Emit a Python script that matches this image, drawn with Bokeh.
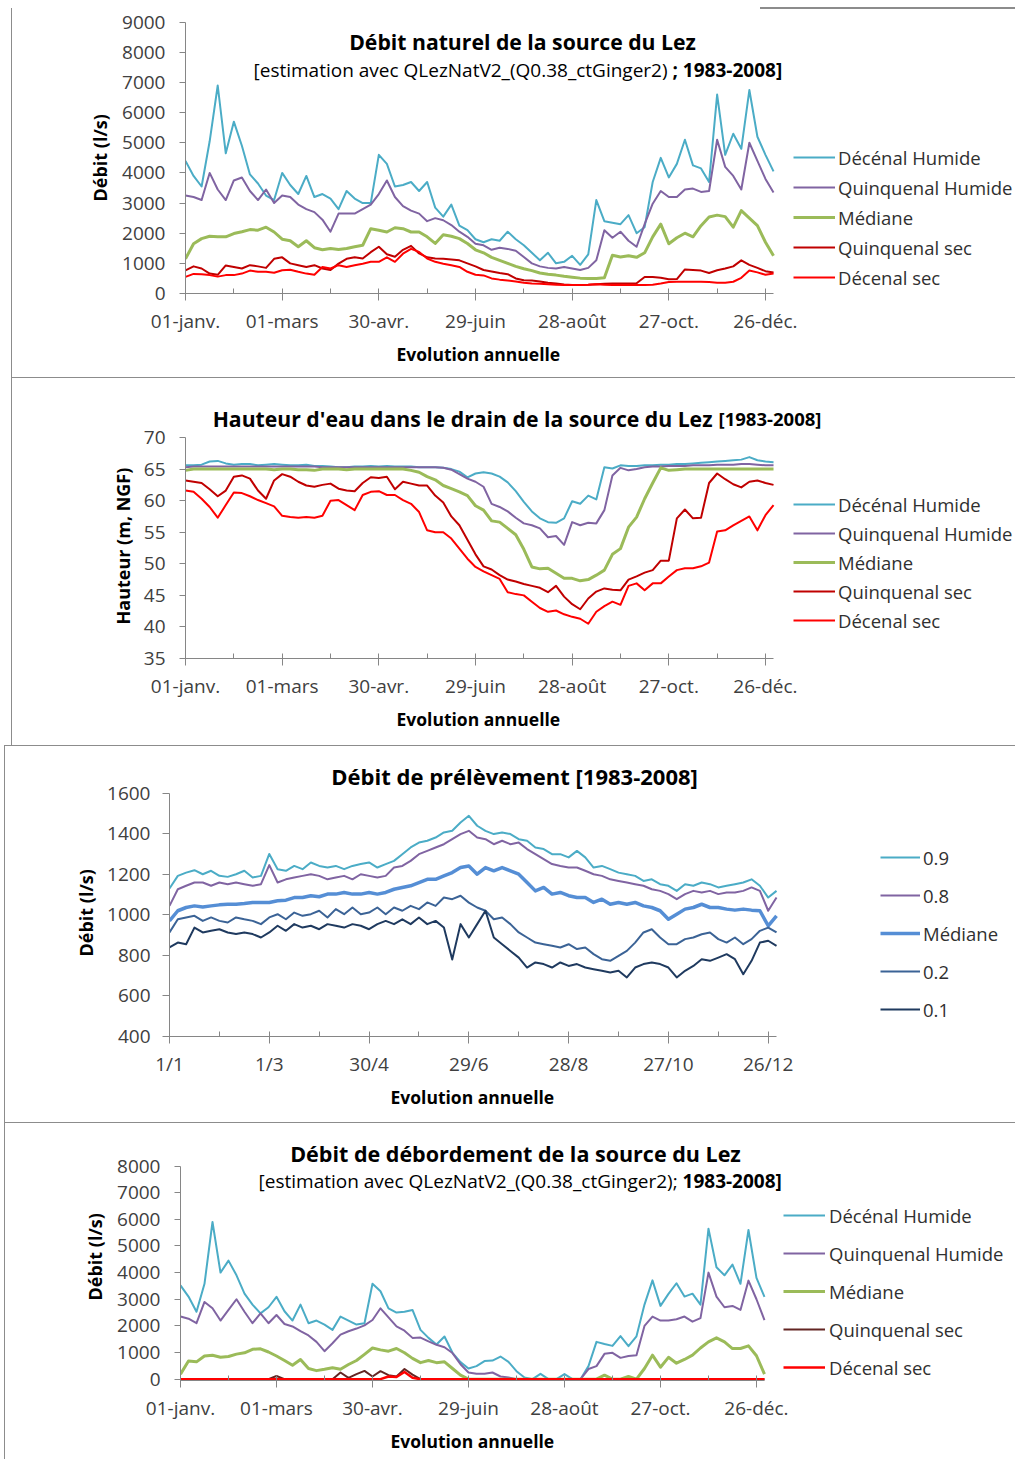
from bokeh.plotting import figure
from bokeh.models import Range1d, FixedTicker, Label, Legend, LegendItem, Title
from bokeh.layouts import column
from bokeh.embed import file_html
from bokeh.resources import INLINE

FONT = "Open Sans"

# ---------------- shared calendar ----------------
days = list(range(0, 366, 5))
tick_days = [0, 60, 120, 180, 240, 300, 360]
minor_days = [30, 90, 150, 210, 270, 330]
labels_fr = ["01-janv.", "01-mars", "30-avr.", "29-juin", "28-août", "27-oct.", "26-déc."]
labels_num = ["1/1", "1/3", "30/4", "29/6", "28/8", "27/10", "26/12"]
names_lez = ["Décénal Humide", "Quinquenal Humide", "Médiane", "Quinquenal sec", "Décenal sec"]
names_prel = ["0.9", "0.8", "Médiane", "0.2", "0.1"]

# ---------------- panel 1 : débit naturel (l/s) ----------------
q_nat_dh = [4400, 3900, 3550, 5050, 6900, 4650, 5700, 4900, 3950, 3650,
            3250, 3100, 4000, 3600, 3300, 3900, 3200, 3300, 3150, 2800,
            3400, 3150, 3000, 3000, 4600, 4300, 3550, 3600, 3700, 3400,
            3700, 2850, 2550, 2950, 2250, 2100, 1800, 1700, 1800, 1750,
            2050, 1800, 1600, 1350, 1100, 1350, 1000, 1050, 1250, 950,
            1300, 3100, 2400, 2350, 2300, 2600, 2000, 2200, 3700, 4500,
            3850, 4300, 5100, 4250, 4150, 3700, 6600, 4600, 5300, 4800,
            6750, 5200, 4600, 4050]
q_nat_qh = [3250, 3200, 3100, 4000, 3450, 3100, 3750, 3850, 3400, 3100,
            3450, 3000, 3250, 3200, 2950, 2800, 2700, 2450, 2050, 2650,
            2650, 2650, 2800, 2950, 3300, 3750, 3200, 2900, 2750, 2650,
            2400, 2500, 2430, 2270, 2050, 1880, 1650, 1600, 1450, 1520,
            1480, 1420, 1210, 1000, 900, 850, 830, 880, 830, 780,
            850, 1100, 2100, 1850, 2050, 1750, 1550, 2300, 2980, 3400,
            3200, 3200, 3450, 3480, 3370, 3400, 5100, 4200, 3900, 3450,
            5000, 4400, 3800, 3350]
q_nat_med = [1150, 1650, 1820, 1900, 1880, 1880, 1990, 2050, 2120, 2100,
             2200, 2040, 1800, 1750, 1550, 1750, 1520, 1450, 1490, 1460,
             1490, 1550, 1600, 2150, 2100, 2040, 2180, 2150, 2040, 2040,
             1880, 1660, 1950, 1900, 1820, 1660, 1450, 1350, 1200, 1100,
             1000, 900, 820, 760, 680, 640, 610, 570, 540, 510,
             500, 500, 520, 1270, 1210, 1250, 1200, 1350, 1880, 2300,
             1650, 1850, 2000, 1880, 2250, 2540, 2600, 2550, 2200, 2750,
             2500, 2250, 1700, 1250]
q_nat_qs = [770, 900, 830, 660, 620, 930, 880, 830, 940, 900,
            850, 1150, 1200, 1000, 940, 880, 940, 830, 780, 990,
            1150, 1200, 1160, 1370, 1550, 1300, 1220, 1450, 1580, 1330,
            1200, 1160, 1150, 1130, 1100, 1000, 900, 780, 730, 680,
            640, 500, 440, 430, 400, 360, 330, 300, 280, 280,
            290, 310, 320, 330, 330, 330, 340, 550, 550, 520,
            470, 480, 800, 780, 760, 680, 770, 830, 900, 1100,
            950, 850, 740, 700]
q_nat_ds = [550, 650, 640, 610, 560, 610, 610, 660, 760, 720,
            720, 690, 770, 790, 720, 660, 620, 880, 830, 940,
            880, 940, 990, 1050, 1050, 1200, 1050, 1320, 1480, 1380,
            1160, 1050, 990, 940, 880, 720, 620, 600, 500, 460,
            430, 400, 360, 330, 320, 310, 290, 280, 280, 280,
            290, 310, 290, 280, 280, 280, 280, 280, 290, 330,
            380, 390, 390, 390, 390, 380, 360, 360, 390, 520,
            760, 700, 620, 660]
y_ticks_nat = [0, 1000, 2000, 3000, 4000, 5000, 6000, 7000, 8000, 9000]

# ---------------- panel 2 : hauteur d'eau (m NGF) ----------------
h_dh = [65.6, 65.6, 65.7, 66.2, 66.3, 65.9, 65.7, 65.8, 65.8, 65.6,
        65.7, 65.8, 65.7, 65.6, 65.6, 65.7, 65.5, 65.5, 65.4, 65.3,
        65.3, 65.4, 65.4, 65.5, 65.4, 65.5, 65.4, 65.4, 65.4, 65.3,
        65.3, 65.3, 65.2, 65.0, 64.6, 63.7, 64.3, 64.5, 64.3, 63.8,
        62.9, 61.5, 59.8, 58.3, 57.2, 56.6, 56.5, 57.2, 59.9, 59.5,
        60.8, 60.2, 65.3, 65.1, 65.6, 65.5, 65.5, 65.6, 65.6, 65.7,
        65.7, 65.8, 65.8, 65.9, 66.0, 66.1, 66.2, 66.3, 66.4, 66.5,
        66.9, 66.4, 66.2, 66.1]
h_qh = [65.3, 65.4, 65.4, 65.4, 65.4, 65.4, 65.4, 65.4, 65.4, 65.4,
        65.4, 65.4, 65.4, 65.4, 65.4, 65.4, 65.4, 65.3, 65.3, 65.3,
        65.3, 65.3, 65.3, 65.3, 65.3, 65.3, 65.3, 65.3, 65.3, 65.3,
        65.3, 65.3, 65.2, 64.9, 64.2, 63.5, 63.0, 62.2, 59.5, 59.0,
        58.3, 57.3, 56.4, 56.1, 55.6, 54.2, 54.4, 53.0, 56.6, 56.1,
        56.5, 56.4, 58.5, 64.0, 65.2, 64.8, 65.0, 65.3, 65.4, 65.4,
        65.5, 65.5, 65.5, 65.6, 65.6, 65.6, 65.7, 65.7, 65.7, 65.8,
        65.8, 65.7, 65.6, 65.6]
h_med = [64.8, 65.0, 65.0, 65.0, 65.0, 65.0, 65.0, 65.0, 65.0, 65.0,
         65.0, 64.9, 65.0, 65.0, 64.9, 64.9, 64.8, 65.0, 65.0, 65.0,
         64.9, 65.0, 65.0, 65.0, 65.0, 65.0, 65.0, 65.0, 64.8, 64.5,
         63.8, 63.3, 62.4, 61.9, 61.4, 60.8, 59.2, 58.5, 56.8, 56.6,
         55.6, 54.6, 52.3, 49.5, 49.2, 49.3, 48.5, 47.7, 47.7, 47.3,
         47.5, 48.2, 49.0, 51.5, 52.4, 55.8, 57.4, 60.3, 62.8, 65.2,
         64.8, 64.9, 65.0, 65.0, 65.0, 65.0, 65.0, 65.0, 65.0, 65.0,
         65.0, 65.0, 65.0, 65.0]
h_qs = [63.2, 63.0, 62.8, 61.8, 60.7, 61.6, 63.8, 64.0, 63.5, 61.6,
        60.3, 63.2, 64.2, 63.8, 63.0, 62.4, 62.2, 62.5, 62.7, 61.9,
        61.6, 61.5, 62.8, 63.7, 63.6, 63.8, 61.8, 63.0, 62.7, 62.4,
        62.4, 60.8, 59.7, 57.5, 56.1, 53.8, 51.5, 49.6, 49.1, 48.2,
        47.5, 47.2, 46.8, 46.5, 46.2, 45.5, 46.5, 44.8, 43.6, 42.8,
        44.5, 45.6, 46.1, 45.9, 45.8, 47.5, 48.0, 48.6, 49.0, 50.5,
        50.5, 57.2, 58.6, 57.2, 57.3, 62.8, 64.3, 63.4, 62.6, 62.1,
        63.0, 63.2, 62.8, 62.5]
h_ds = [61.6, 61.4, 60.3, 59.0, 57.3, 59.3, 61.3, 61.2, 60.7, 60.1,
        59.6, 59.1, 57.6, 57.4, 57.3, 57.4, 57.3, 57.6, 60.0, 60.1,
        59.3, 58.5, 60.9, 61.4, 61.5, 60.9, 60.9, 60.1, 59.5, 58.2,
        55.3, 55.0, 55.0, 54.0, 52.4, 50.8, 49.5, 48.8, 48.2, 47.6,
        45.5, 45.2, 45.0, 44.0, 43.0, 42.4, 42.6, 42.0, 41.6, 41.3,
        40.5, 42.4, 43.3, 44.0, 43.5, 46.5, 46.9, 45.8, 46.9, 46.9,
        48.0, 49.0, 49.3, 49.3, 49.6, 50.2, 55.1, 55.3, 56.1, 56.8,
        57.5, 55.3, 57.7, 59.3]
y_ticks_h = [35, 40, 45, 50, 55, 60, 65, 70]

# ---------------- panel 3 : débit de prélèvement (l/s) ----------------
p_q90 = [1130, 1192, 1208, 1220, 1200, 1217, 1192, 1187, 1200, 1217,
         1184, 1192, 1300, 1225, 1217, 1241, 1225, 1258, 1241, 1233,
         1241, 1225, 1241, 1250, 1258, 1233, 1250, 1266, 1299, 1332,
         1356, 1365, 1381, 1406, 1414, 1455, 1488, 1439, 1414, 1398,
         1406, 1398, 1373, 1365, 1332, 1324, 1299, 1299, 1283, 1315,
         1283, 1233, 1241, 1225, 1208, 1200, 1192, 1167, 1175, 1151,
         1143, 1118, 1151, 1143, 1159, 1151, 1135, 1143, 1151, 1159,
         1175, 1143, 1085, 1118]
p_q80 = [1044, 1126, 1143, 1159, 1159, 1143, 1159, 1151, 1159, 1151,
         1143, 1151, 1245, 1159, 1175, 1184, 1192, 1200, 1192, 1175,
         1184, 1192, 1175, 1200, 1192, 1184, 1192, 1233, 1241, 1266,
         1299, 1315, 1332, 1348, 1373, 1398, 1414, 1381, 1373, 1348,
         1365, 1348, 1356, 1324, 1299, 1274, 1250, 1241, 1233, 1233,
         1217, 1200, 1192, 1175, 1167, 1159, 1151, 1143, 1126, 1118,
         1102, 1077, 1102, 1118, 1110, 1118, 1102, 1110, 1110, 1118,
         1135, 1118, 1020, 1085]
p_med = [970, 1020, 1036, 1044, 1039, 1044, 1049, 1052, 1052, 1056,
         1061, 1061, 1061, 1069, 1072, 1085, 1085, 1094, 1089, 1102,
         1102, 1110, 1102, 1102, 1110, 1102, 1110, 1126, 1135, 1143,
         1159, 1175, 1175, 1192, 1208, 1233, 1241, 1200, 1233, 1217,
         1233, 1217, 1200, 1159, 1118, 1135, 1102, 1110, 1094, 1085,
         1085, 1061, 1077, 1052, 1061, 1052, 1061, 1044, 1036, 1020,
         978, 1003, 1028, 1036, 1052, 1036, 1036, 1028, 1023, 1028,
         1023, 1020, 946, 995]
p_q20 = [913, 978, 987, 995, 970, 987, 970, 962, 987, 978,
         970, 954, 987, 1003, 978, 1011, 995, 1003, 1020, 987,
         1028, 1003, 1036, 1003, 1011, 1036, 1003, 1036, 1020, 1044,
         1028, 1061, 1044, 1085, 1077, 1094, 1060, 1036, 1020, 978,
         987, 954, 913, 888, 863, 855, 847, 839, 855, 831,
         839, 806, 781, 773, 798, 822, 863, 913, 929, 888,
         855, 855, 880, 888, 904, 913, 880, 863, 888, 855,
         880, 921, 937, 913]
p_q10 = [839, 863, 855, 937, 913, 921, 929, 913, 905, 913,
         905, 888, 913, 946, 921, 954, 937, 946, 929, 954,
         946, 937, 954, 946, 929, 954, 970, 954, 978, 954,
         987, 954, 970, 937, 780, 954, 888, 954, 1020, 888,
         855, 822, 789, 740, 765, 757, 740, 765, 748, 757,
         740, 732, 724, 716, 724, 691, 740, 757, 765, 757,
         740, 691, 724, 748, 781, 773, 789, 806, 781, 707,
         773, 863, 872, 847]
y_ticks_prel = [400, 600, 800, 1000, 1200, 1400, 1600]

# ---------------- panel 4 : débit de débordement (l/s) ----------------
d_dh = [3520, 3100, 2530, 3580, 5900, 4000, 4450, 3900, 3210, 2800,
        2470, 2700, 3090, 2550, 2200, 2800, 2100, 2200, 2050, 1850,
        2350, 2200, 2050, 2100, 3580, 3300, 2660, 2500, 2530, 2600,
        1850, 1550, 1300, 1600, 990, 640, 400, 490, 680, 700,
        850, 650, 300, 60, 0, 200, 0, 0, 190, 0,
        0, 490, 1400, 1320, 1250, 1620, 1240, 1610, 2800, 3710,
        2750, 3200, 3600, 3100, 3210, 2800, 5650, 4200, 3900, 4300,
        3580, 5600, 3800, 3090]
d_qh = [2350, 2270, 2100, 2900, 2660, 2200, 2600, 3000, 2530, 2100,
        2470, 2100, 2410, 2070, 1980, 1800, 1640, 1400, 1050, 1350,
        1670, 1800, 1900, 2020, 2220, 2660, 2320, 1980, 1820, 1550,
        1560, 1420, 1290, 1200, 980, 560, 250, 200, 200, 250,
        100, 60, 0, 0, 0, 0, 0, 0, 0, 0,
        0, 380, 490, 950, 990, 800, 870, 900, 2000, 2350,
        2200, 2200, 2250, 2350, 2160, 2290, 4000, 3100, 2700, 2750,
        2600, 3700, 3000, 2220]
d_med = [190, 680, 650, 870, 900, 820, 850, 940, 990, 1120,
         1140, 1020, 870, 700, 520, 740, 400, 320, 370, 430,
         370, 550, 700, 930, 1170, 1100, 1050, 1150, 990, 780,
         620, 700, 620, 650, 400, 150, 0, 0, 0, 0,
         0, 0, 0, 0, 0, 0, 0, 0, 0, 0,
         0, 0, 0, 150, 0, 0, 100, 0, 400, 900,
         450, 820, 600, 740, 900, 1170, 1400, 1550, 1400, 1150,
         1150, 1250, 880, 190]
d_qs = [0, 0, 0, 0, 0, 0, 0, 0, 0, 0,
        0, 0, 120, 0, 0, 0, 0, 0, 0, 0,
        250, 50, 190, 310, 100, 300, 150, 100, 380, 170,
        0, 0, 0, 0, 0, 0, 0, 0, 0, 0,
        0, 0, 0, 0, 0, 0, 0, 0, 0, 0,
        0, 0, 0, 0, 0, 0, 0, 0, 0, 0,
        0, 0, 0, 0, 0, 0, 0, 0, 0, 0,
        0, 0, 0, 0]
d_ds = [0, 0, 0, 0, 0, 0, 0, 0, 0, 0,
        0, 0, 0, 0, 0, 0, 0, 0, 0, 0,
        0, 0, 0, 0, 0, 0, 100, 80, 270, 50,
        0, 0, 0, 0, 0, 0, 0, 0, 0, 0,
        0, 0, 0, 0, 0, 0, 0, 0, 0, 0,
        0, 0, 0, 0, 0, 0, 0, 0, 0, 0,
        0, 0, 0, 0, 0, 0, 0, 0, 0, 0,
        0, 0, 0, 0]
y_ticks_deb = [0, 1000, 2000, 3000, 4000, 5000, 6000, 7000, 8000]

# ---------------- styling ----------------
AX = "#868686"
TXT = "#404040"
TICK_SIZE = "19px"
LEG_SIZE = "18.5px"
SEP = "#8c8c8c"
W = 1015


def seg(x, y, w, h, color=SEP):
    return "linear-gradient(%s,%s) %dpx %dpx / %dpx %dpx no-repeat" % (color, color, x, y, w, h)


def make_fig(h, mbl, mbb, x_end, y_lo, y_top, y_hi, yticks, xlabels, ystand, ytick_out,
             xtitle, xt_off, ytitle, yt_off, yt_standoff, bg):
    p = figure(width=W, height=h, output_backend="svg", toolbar_location=None, title=None,
               x_range=Range1d(0, x_end), y_range=Range1d(y_lo, y_top),
               min_border_left=mbl, min_border_right=0,
               min_border_top=0, min_border_bottom=mbb)
    p.frame_align = False
    p.outline_line_color = None
    p.xgrid.visible = False
    p.ygrid.visible = False
    p.background_fill_color = None
    p.border_fill_color = None
    if bg:
        p.styles = {"background": ", ".join(bg)}
    xa = p.xaxis[0]
    ya = p.yaxis[0]
    xa.bounds = (0, 365)
    ya.bounds = (y_lo, y_hi)
    xa.ticker = FixedTicker(ticks=tick_days, minor_ticks=minor_days)
    xa.major_label_overrides = dict(zip(tick_days, xlabels))
    ya.ticker = FixedTicker(ticks=yticks, minor_ticks=[])
    for ax in (xa, ya):
        ax.axis_line_color = AX
        ax.major_tick_line_color = AX
        ax.minor_tick_line_color = AX
        ax.major_label_text_font = FONT
        ax.major_label_text_font_size = TICK_SIZE
        ax.major_label_text_color = TXT
    xa.major_tick_in = 5
    xa.major_tick_out = 7
    xa.minor_tick_in = 5
    xa.minor_tick_out = 0
    xa.major_label_standoff = 7
    ya.major_tick_in = 0
    ya.major_tick_out = ytick_out
    ya.minor_tick_line_color = None
    ya.major_label_standoff = ystand
    p.add_layout(Title(text=xtitle, align="left", offset=xt_off, vertical_align="top",
                       standoff=10, text_font=FONT, text_font_size="17.5px",
                       text_font_style="bold", text_color="#000000"), "below")
    p.add_layout(Title(text=ytitle, align="left", offset=yt_off, vertical_align="bottom",
                       standoff=yt_standoff, text_font=FONT, text_font_size="18px",
                       text_font_style="bold", text_color="#000000"), "left")
    return p


def add_lines(p, series, colors, widths, names, loc, glyph_w, spacing, standoff):
    items = []
    for vals, c, w, n in zip(series, colors, widths, names):
        r = p.line(days, vals, line_color=c, line_width=w, line_join="round")
        items.append(LegendItem(label=n, renderers=[r]))
    leg = Legend(items=items, location=loc, orientation="vertical",
                 glyph_width=glyph_w, glyph_height=26, label_height=26,
                 spacing=spacing, padding=0, margin=0, label_standoff=standoff,
                 border_line_color=None, background_fill_alpha=0,
                 label_text_font=FONT, label_text_font_size=LEG_SIZE,
                 label_text_color="#303030")
    p.add_layout(leg)


def txt(p, x, y, text, size, bold=True, align="center", baseline="middle"):
    p.add_layout(Label(x=x, y=y, text=text, text_font=FONT, text_font_size=size,
                       text_font_style="bold" if bold else "normal",
                       text_align=align, text_baseline=baseline,
                       text_color="#000000"))


TITLE = "21.2px"
SUB = "19px"
LEZ_COLORS = ["#4BACC6", "#8064A2", "#9BBB59", "#C00000", "#FF0000"]

# ---- panel 1 (page y 0-378)
p1 = make_fig(378, 185, 85, 515.2, 0, 9720, 9000, y_ticks_nat, labels_fr, 14, 6,
              "Evolution annuelle", 211, "Débit (l/s)", 92, 16,
              [seg(11, 8, 1, 370), seg(760, 7, 255, 2), seg(11, 377, 1004, 1)])
add_lines(p1, [q_nat_dh, q_nat_qh, q_nat_med, q_nat_qs, q_nat_ds],
          LEZ_COLORS, [2, 2, 3, 2, 2], names_lez, (608, 3), 42, 4, 3)
txt(p1, 209.2, 8359, "Débit naturel de la source du Lez", TITLE)
txt(p1, 302.3, 7430, "[estimation  avec QLezNatV2_(Q0.38_ctGinger2)", SUB, bold=False, align="right")
txt(p1, 302.3, 7430, "; 1983-2008]", SUB, bold=True, align="left")

# ---- panel 2 (page y 378-745)
p2 = make_fig(367, 185, 87, 515.2, 35, 79.35, 70, y_ticks_h, labels_fr, 14, 6,
              "Evolution annuelle", 211, "Hauteur (m, NGF)", 34, 12,
              [seg(11, 0, 1, 367)])
add_lines(p2, [h_dh, h_qh, h_med, h_qs, h_ds],
          LEZ_COLORS, [2, 2, 3, 2, 2], names_lez, (608, 25), 42, 3, 3)
txt(p2, 327.1, 73.01, "Hauteur d'eau dans le drain de la source du Lez", TITLE,
    align="right", baseline="alphabetic")
txt(p2, 330.9, 73.01, "[1983-2008]", "18.5px", align="left", baseline="alphabetic")

# ---- panel 3 (page y 745-1122)
p3 = make_fig(377, 169, 86, 508.7, 400, 1834.7, 1600, y_ticks_prel, labels_num, 12, 7,
              "Evolution annuelle", 221, "Débit (l/s)", 80, 14,
              [seg(4, 0, 1011, 1), seg(4, 0, 1, 377)])
add_lines(p3, [p_q90, p_q80, p_med, p_q20, p_q10],
          ["#4BACC6", "#8064A2", "#558ED5", "#3B6396", "#1F3A5F"],
          [2, 2, 3.5, 2, 2], names_prel, (711, 14), 40, 12, 3)
txt(p3, 207.5, 1686.7, "Débit de prélèvement [1983-2008]", "22px")

# ---- panel 4 (page y 1122-1459); range starts a hair below 0 so the flat 0-line stays visible
p4 = make_fig(337, 180, 76, 521.9, -50, 9635, 8000, y_ticks_deb, labels_fr, 14, 6,
              "Evolution annuelle", 210, "Débit (l/s)", 80, 16,
              [seg(4, 0, 1011, 1), seg(4, 0, 1, 337)])
add_lines(p4, [d_dh, d_qh, d_med, d_qs, d_ds],
          ["#4BACC6", "#8064A2", "#9BBB59", "#632523", "#FF0000"],
          [2, 2, 3, 2, 2.5], names_lez, (603, 0), 42, 12, 4)
txt(p4, 209.4, 8481, "Débit de débordement de la source du Lez", "21.5px")
txt(p4, 313.8, 7442, "[estimation  avec QLezNatV2_(Q0.38_ctGinger2);", SUB, bold=False, align="right")
txt(p4, 313.8, 7442, "1983-2008]", SUB, bold=True, align="left")

layout = column(p1, p2, p3, p4, spacing=0)
open("out.html", "w").write(file_html(layout, INLINE))
